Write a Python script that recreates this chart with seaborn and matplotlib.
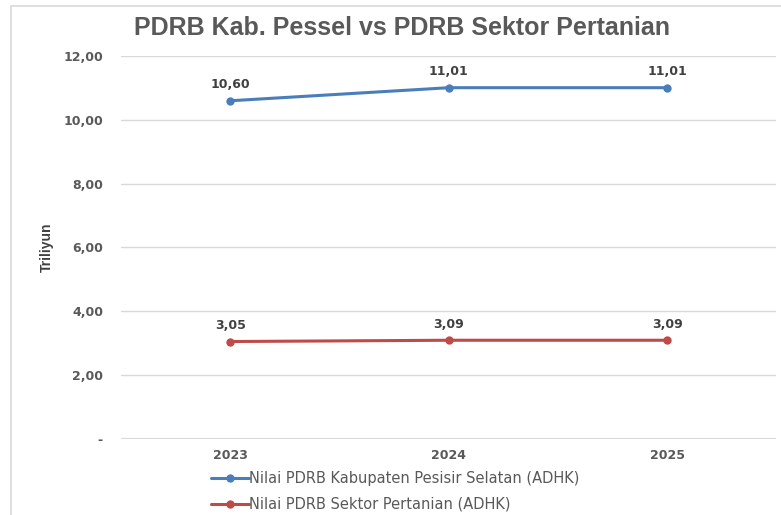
import matplotlib
matplotlib.use('Agg')
import matplotlib.pyplot as plt
import seaborn as sns
import pandas as pd
from matplotlib.patches import Rectangle
from matplotlib.ticker import FixedLocator, FuncFormatter

# Data (trillion rupiah)
years = ['2023', '2024', '2025']
pdrb_kabupaten = [10.60, 11.01, 11.01]
pdrb_pertanian = [3.05, 3.09, 3.09]
series_names = ['Nilai PDRB Kabupaten Pesisir Selatan (ADHK)',
                'Nilai PDRB Sektor Pertanian (ADHK)']
y_ticks = [0, 2, 4, 6, 8, 10, 12]

df = pd.DataFrame({
    'Tahun': years * 2,
    'Nilai': pdrb_kabupaten + pdrb_pertanian,
    'Seri': [series_names[0]] * 3 + [series_names[1]] * 3,
})

sns.set_theme(style='white')
plt.rcParams['font.family'] = ['Liberation Sans', 'DejaVu Sans']

colors = {series_names[0]: '#4a7ebb', series_names[1]: '#be4b48'}
text_gray = '#595959'
wide = 'DejaVu Sans'

fig = plt.figure(figsize=(7.81, 5.15), dpi=100)
ax = fig.add_axes([0.155, 0.148, 0.839, 0.743])

# light frame around the chart
fig.patches.append(Rectangle((11 / 781, -0.01), 1.0, 1 - 6 / 515 + 0.01,
                             transform=fig.transFigure, fill=False,
                             edgecolor='#d9d9d9', linewidth=1.2))

sns.lineplot(data=df, x='Tahun', y='Nilai', hue='Seri', palette=colors,
             marker='o', markersize=6, markeredgewidth=0, linewidth=2.2,
             ax=ax, legend=True)

ax.set_xlim(-0.5, 2.5)
ax.set_ylim(0, 12)
ax.yaxis.set_major_locator(FixedLocator(y_ticks))
ax.yaxis.set_major_formatter(FuncFormatter(
    lambda v, p: '-' if v == 0 else f'{v:.2f}'.replace('.', ',')))
ax.grid(axis='y', color='#d9d9d9', linewidth=1)
ax.grid(axis='x', visible=False)
for s in ax.spines.values():
    s.set_visible(False)
ax.axhline(0, color='#d9d9d9', linewidth=1.5, zorder=0)

ax.tick_params(axis='both', length=0, labelcolor=text_gray)
ax.tick_params(axis='y', pad=13)
ax.tick_params(axis='x', pad=7)
for lbl in ax.get_xticklabels() + ax.get_yticklabels():
    lbl.set_fontweight('bold')
    lbl.set_fontfamily(wide)
    lbl.set_fontsize(9)

ax.set_xlabel('')
ax.set_ylabel('Triliyun', fontsize=10, color='#404040', fontweight='bold',
              labelpad=7)

# data labels
for vals in (pdrb_kabupaten, pdrb_pertanian):
    for i, v in enumerate(vals):
        ax.annotate(f'{v:.2f}'.replace('.', ','), (i, v), xytext=(0, 7),
                    textcoords='offset points', ha='center', va='bottom',
                    fontsize=9, fontweight='bold', color='#404040',
                    family=wide)

fig.text(402 / 781, 1 - 28 / 515, 'PDRB Kab. Pessel vs PDRB Sektor Pertanian',
         ha='center', va='center', fontsize=18, fontweight='bold',
         color=text_gray)

leg = ax.legend(loc='upper left', bbox_to_anchor=(0.128, -0.07), frameon=False,
                prop={'family': wide, 'size': 10.5}, handlelength=2.6,
                handletextpad=0.0, labelspacing=0.7, borderaxespad=0)
for t in leg.get_texts():
    t.set_color(text_gray)

fig.savefig('out.png', dpi=100)
